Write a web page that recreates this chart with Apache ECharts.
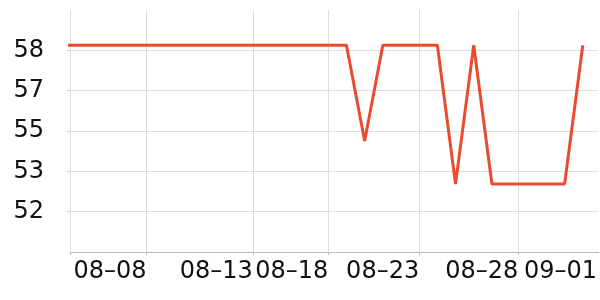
<!DOCTYPE html>
<html>
<head>
<meta charset="utf-8">
<script src="https://cdn.jsdelivr.net/npm/echarts@6/dist/echarts.min.js"></script>
<style>
html,body{margin:0;padding:0;background:#fff;}
#c{width:600px;height:300px;}
</style>
</head>
<body>
<div id="c"></div>
<script>
// Data
var dates = ['2024-08-03','2024-08-04','2024-08-05','2024-08-06','2024-08-07','2024-08-08','2024-08-09','2024-08-10',
  '2024-08-11','2024-08-12','2024-08-13','2024-08-14','2024-08-15','2024-08-16','2024-08-17','2024-08-18','2024-08-19',
  '2024-08-20','2024-08-21','2024-08-22','2024-08-23','2024-08-24','2024-08-25','2024-08-26','2024-08-27','2024-08-28',
  '2024-08-29','2024-08-30','2024-08-31','2024-09-01'];
var values = [58.4,58.4,58.4,58.4,58.4,58.4,58.4,58.4,
  58.4,58.4,58.4,58.4,58.4,58.4,58.4,58.4,58.4,
  54.6,58.4,58.4,58.4,58.4,52.9,58.4,52.9,52.9,
  52.9,52.9,52.9,58.4];
// x axis range and ticks (times)
var xMin = '2024-08-03 19:00';
var xMax = '2024-09-01 21:00';
var xGridTimes = ['2024-08-03 19:00','2024-08-08 00:00','2024-08-13 20:24','2024-08-18 00:00','2024-08-23 00:00','2024-08-28 10:48'];
var xLabelTimes = ['2024-08-08 00:00','2024-08-13 20:24','2024-08-18 00:00','2024-08-23 00:00','2024-08-28 10:48','2024-09-01 18:45'];
var xLabels = ['08–08','08–13','08–18','08–23','08–28','09–01'];
// y axis
var yMin = 50.2, yMax = 59.8;
var yTickValues = [51.8, 53.4, 55, 56.6, 58.2];
var yTickLabels = ['52','53','55','57','58'];

function t(s){ return echarts.time.parse(s).getTime(); }
var xLabelMs = xLabelTimes.map(t);

var chart = echarts.init(document.getElementById('c'), null, {renderer:'canvas'});
chart.setOption({
  animation: false,
  backgroundColor: '#ffffff',
  grid: {left: 70, right: 0, top: 10, bottom: 48, containLabel: false},
  xAxis: {
    type: 'value',
    min: t(xMin),
    max: t(xMax),
    axisLine: {show: true, lineStyle: {color: '#bbbbbb', width: 1}},
    axisTick: {show: true, length: 3, lineStyle: {color: '#bbbbbb'}, customValues: xGridTimes.map(t)},
    splitLine: {show: true, lineStyle: {color: '#dddddd', width: 1}},
    axisLabel: {
      customValues: xLabelMs,
      align: 'right',
      margin: 8,
      fontSize: 24,
      fontFamily: 'DejaVu Sans',
      color: '#111111',
      hideOverlap: false,
      formatter: function(v){
        var i = xLabelMs.indexOf(v);
        return i >= 0 ? xLabels[i] : '';
      }
    }
  },
  yAxis: {
    type: 'value',
    min: yMin,
    max: yMax,
    axisLine: {show: false},
    axisTick: {show: true, length: 3, lineStyle: {color: '#cccccc'}, customValues: yTickValues},
    splitLine: {show: true, lineStyle: {color: '#dddddd', width: 1}},
    axisLabel: {
      customValues: yTickValues,
      margin: 26,
      fontSize: 24,
      fontFamily: 'DejaVu Sans',
      color: '#111111',
      formatter: function(v){
        var i = yTickValues.indexOf(v);
        return i >= 0 ? yTickLabels[i] : '';
      }
    }
  },
  series: [{
    type: 'line',
    data: dates.map(function(d, i){ return [t(d), values[i]]; }),
    showSymbol: false,
    symbol: 'none',
    clip: true,
    lineStyle: {color: '#ea4b2e', width: 3},
    itemStyle: {color: '#ea4b2e'}
  }]
});
</script>
</body>
</html>
